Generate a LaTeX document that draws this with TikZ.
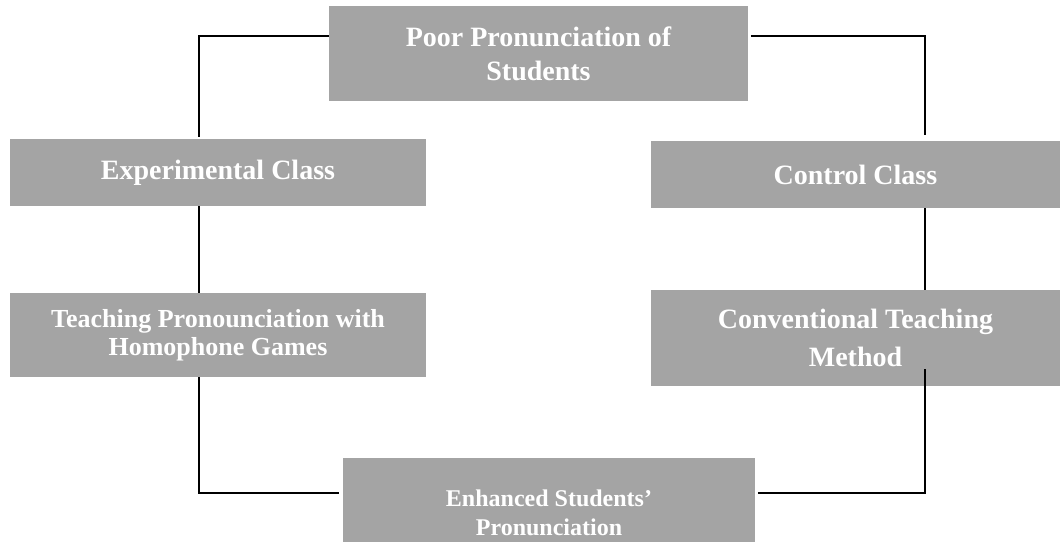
\documentclass[tikz,border=0pt]{standalone}
\usepackage{fontspec}
\setmainfont{Liberation Serif}
\definecolor{boxgray}{RGB}{164,164,164}

\begin{document}
\begin{tikzpicture}[x=0.75pt, y=-0.75pt,
	box/.style={fill=boxgray, text=white, align=center, inner sep=0pt},
	link/.style={line width=1pt, black}]

	\useasboundingbox (0,0) rectangle (1060,542);

	% Boxes
	\node[box, minimum width=314.25pt, minimum height=71.25pt, font=\bfseries\fontsize{21}{25.5}\selectfont] (poor) at (538.5,53.5) {Poor Pronunciation of\\Students};
	\node[box, minimum width=312pt, minimum height=50.25pt, font=\bfseries\fontsize{21}{25}\selectfont] (expclass) at (218,172.5) {Experimental Class};
	\node[box, minimum width=306.75pt, minimum height=50.25pt, font=\bfseries\fontsize{21}{25}\selectfont] (ctrl) at (855.5,174.5) {Control Class};
	\node[box, minimum width=312pt, minimum height=63pt, font=\bfseries\fontsize{19.5}{21}\selectfont] (teach) at (218,335) {Teaching Pronounciation with\\Homophone Games};
	\node[box, minimum width=306.75pt, minimum height=72pt, font=\bfseries\fontsize{21}{29}\selectfont] (conv) at (855.5,338) {Conventional Teaching\\Method};
	\node[box, minimum width=309pt, minimum height=63pt, font=\bfseries\fontsize{18}{22}\selectfont] (enh) at (549,500) {\rule{0pt}{32pt}Enhanced Students'\\Pronunciation};

	% Corner points of the connectors
	\coordinate (ltop) at (199,36);
	\coordinate (rtop) at (925,36);
	\coordinate (lbot) at (199,493);
	\coordinate (rbot) at (925,493);

	% Left side
	\draw[link] (poor.west |- ltop) -- (ltop) -- ([yshift=1.5pt]expclass.north -| ltop);
	\draw[link] (expclass.south -| ltop) -- (teach.north -| ltop);
	\draw[link] (teach.south -| lbot) -- (lbot) -- ([xshift=-3pt]enh.west |- lbot);

	% Right side
	\draw[link] ([xshift=2pt]poor.east |- rtop) -- (rtop) -- ([yshift=4.5pt]ctrl.north -| rtop);
	\draw[link] (ctrl.south -| rtop) -- (conv.north -| rtop);
	\draw[link] ([xshift=2pt]enh.east |- rbot) -- (rbot) -- ([yshift=12.75pt]conv.south -| rbot);

\end{tikzpicture}
\end{document}
